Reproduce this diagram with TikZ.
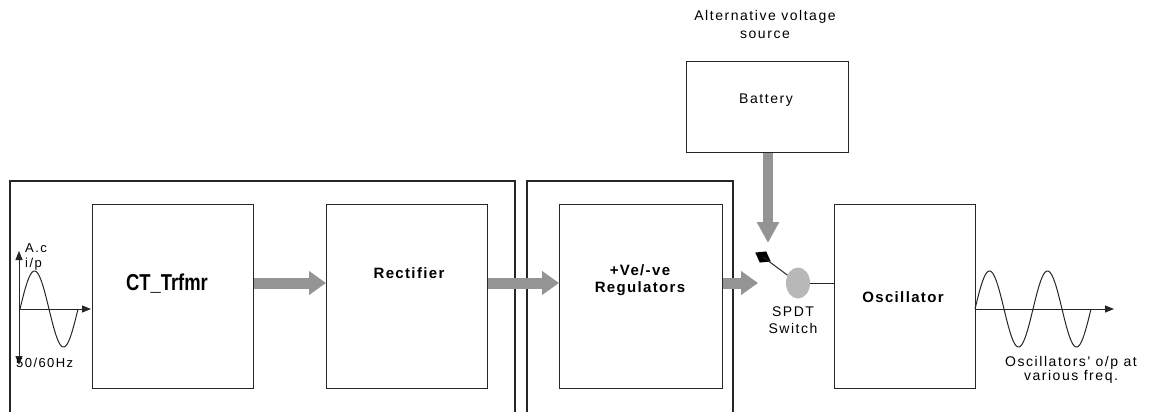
\documentclass[tikz,border=0pt]{standalone}
\usepackage{fontspec}
\setmainfont{Liberation Sans}
\newfontfamily\lsfont[LetterSpace=11]{Liberation Sans}
\newfontfamily\lbfont[LetterSpace=9]{Liberation Sans}
\usetikzlibrary{arrows.meta,shapes.geometric}
\tikzset{
  blk/.style={draw=black!85, line width=1.2pt, inner sep=0pt, anchor=north west},
  txt/.style={font=\lsfont\fontsize{14}{17}\selectfont, inner sep=0pt, align=center},
  btxt/.style={font=\lbfont\bfseries\fontsize{15}{17}\selectfont, inner sep=0pt, align=center},
  garrow/.style={draw=black!42, line width=11pt, -{Triangle[width=23pt,length=17pt,fill=black!42]}},
  axis/.style={draw=black!85, line width=1pt, -{Triangle[width=7pt,length=9pt]}},
  wave/.style={draw=black!85, line width=1pt},
  thin/.style={draw=black!85, line width=1pt}
}
\begin{document}
\begin{tikzpicture}[x=1pt,y=-1pt]
\useasboundingbox[fill=white] (0,0) rectangle (1151,412);

% outer open-bottom frames
\draw[thin, line width=1.2pt] (10,412) -- (10,181) -- (515,181) -- (515,412);
\draw[thin, line width=1.2pt] (527,412) -- (527,181) -- (733,181) -- (733,412);

% blocks
\node[blk, minimum width=161pt, minimum height=184pt] (ct) at (92,204) {};
\node[blk, minimum width=161pt, minimum height=184pt] (rect) at (326,204) {};
\node[blk, minimum width=163pt, minimum height=184pt] (reg) at (559,204) {};
\node[blk, minimum width=141pt, minimum height=184pt] (osc) at (834,204) {};
\node[blk, minimum width=162pt, minimum height=91pt] (bat) at (686,61) {};

% labels
\node[inner sep=0pt] (ctl) at (167,284) {\scalebox{0.8}[1]{\fontsize{23}{23}\selectfont\bfseries CT\_Trfmr}};
\node[btxt] (rectl) at (409,273) {Rectifier};
\node[btxt] (regl) at (640,280.5) {+Ve/-ve\\Regulators};
\node[btxt] (oscl) at (903,297) {Oscillator};
\node[txt] (batl) at (766,100) {Battery};
\node[txt, font=\lsfont\fontsize{14}{18}\selectfont] (altl) at (765,24) {Alternative voltage\\source};

% thick grey arrows
\coordinate (yA) at (0,283);
\coordinate (swIn) at (758,283);
\coordinate (batTip) at (768,243);
\draw[garrow] (ct.east |- yA) -- (rect.west |- yA);
\draw[garrow] (rect.east |- yA) -- (reg.west |- yA);
\draw[garrow] (reg.east |- yA) -- (swIn);
\draw[draw=black!42, line width=10pt, -{Triangle[width=21pt,length=21pt,fill=black!42]}] (bat.south -| batTip) -- (batTip);

% SPDT switch
\node[diamond, fill=black, minimum width=18pt, minimum height=13pt, inner sep=0pt, rotate=-30] (sw) at (763,257) {};
\node[ellipse, fill=black!28, minimum width=24pt, minimum height=31pt, inner sep=0pt] (ell) at (798,283) {};
\draw[thin] (sw.center) -- (ell);
\draw[thin] (ell.east) -- (osc.west |- ell.east);
\node[txt] (swl) at (793,320) {SPDT\\Switch};

% input AC waveform
\coordinate (inO) at (19,309);
\coordinate (inTop) at (19,251);
\coordinate (inBot) at (19,365);
\coordinate (inR) at (91,309);
\draw[thin, {Triangle[width=7pt,length=9pt]}-{Triangle[width=7pt,length=9pt]}] (inTop) -- (inBot);
\draw[axis] (inO) -- (inR);
\draw[wave] plot[domain=0:58, samples=80, smooth] ({20+\x},{309-38*sin(\x/58*360)});
\node[txt, align=left, anchor=west, font=\lsfont\fontsize{13}{15}\selectfont] (acl) at (25,257) {A.c\\i/p};
\node[txt, anchor=west, font=\lsfont\fontsize{13}{15}\selectfont] (hzl) at (16,363) {50/60Hz};

% output waveform
\coordinate (outO) at (osc.east |- inO);
\coordinate (outR) at (1114,309);
\draw[axis] (outO) -- (outR);
\draw[wave] plot[domain=0:116, samples=160, smooth] ({975+\x},{309-38*sin(\x/58*360)});
\node[txt, font=\lsfont\fontsize{14}{13}\selectfont] (outl) at (1071,370) {Oscillators' o/p at\\various freq.};
\end{tikzpicture}
\end{document}
